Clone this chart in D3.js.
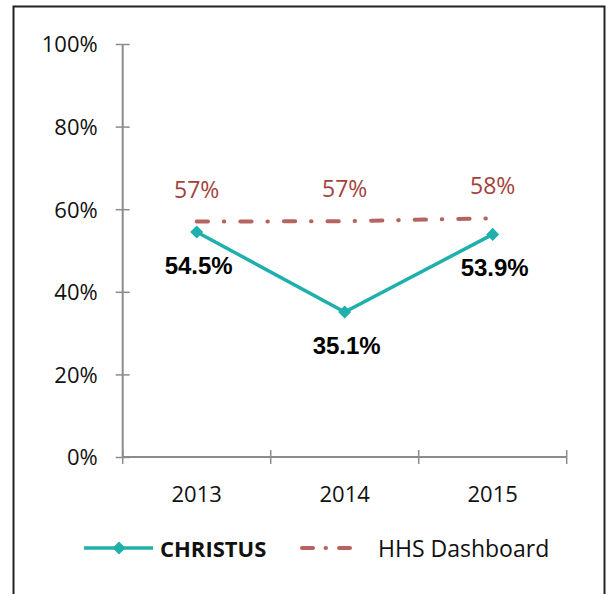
<!DOCTYPE html>
<html><head><meta charset="utf-8">
<script src="https://cdn.jsdelivr.net/npm/d3@7/dist/d3.min.js"></script>
<style>html,body{margin:0;padding:0;background:#fff;}svg{display:block;}</style>
</head><body>
<svg id="chart" width="610" height="594"></svg>
<script>
const years = ["2013", "2014", "2015"];
const christus = [0.545, 0.351, 0.539];
const christusLabels = ["54.5%", "35.1%", "53.9%"];
const hhs = [0.570, 0.571, 0.578];
const hhsLabels = ["57%", "57%", "58%"];
const yTicks = [0, 0.2, 0.4, 0.6, 0.8, 1.0];
const seriesNames = ["CHRISTUS", "HHS Dashboard"];

const teal = "#1fb0ae";
const rose = "#b5645f";
const roseText = "#a3423d";
const axisGray = "#8c8c8c";
const calibri = "'Open Sans', Lato, sans-serif";

const svg = d3.select("#chart");

// outer border (left, top, right)
svg.append("path")
  .attr("d", "M13.5,600 V6.5 H604.5 V600")
  .attr("fill", "none").attr("stroke", "#222").attr("stroke-width", 2);

const x = d3.scaleBand().domain(years).range([122.7, 566.7]).padding(0);
const y = d3.scaleLinear().domain([0, 1]).range([457, 44]);
const cx = d => x(d) + x.bandwidth() / 2;

// Y axis
const yAxis = d3.axisLeft(y).tickValues(yTicks).tickFormat(d3.format(".0%")).tickSize(7).tickPadding(18);
const gy = svg.append("g").attr("transform", `translate(${x.range()[0]},0)`).call(yAxis);
gy.select(".domain").attr("stroke", axisGray).attr("stroke-width", 2).attr("d", `M0,${y(0)}V${y(1)}`);
gy.selectAll(".tick line").attr("stroke", axisGray).attr("stroke-width", 1.5).attr("x1", -7).attr("x2", 7);
gy.selectAll(".tick text").attr("font-family", calibri).attr("font-size", 22).attr("fill", "#111").attr("dy", "0.36em");

// X axis
const xAxis = d3.axisBottom(x).tickSize(0).tickPadding(29);
const gx = svg.append("g").attr("transform", `translate(0,${y(0)})`).call(xAxis);
gx.select(".domain").attr("stroke", axisGray).attr("stroke-width", 2).attr("d", `M${x.range()[0]},0H${x.range()[1]}`);
gx.selectAll(".tick text").attr("font-family", calibri).attr("font-size", 22).attr("fill", "#111").attr("dy", "0.71em");
// boundary ticks
const bounds = years.map(d => x(d)).concat([x.range()[1]]);
gx.selectAll(".bt").data(bounds).enter().append("line")
  .attr("x1", d => d).attr("x2", d => d).attr("y1", -7).attr("y2", 7)
  .attr("stroke", axisGray).attr("stroke-width", 1.5);

// HHS line
const line = d3.line().x((d, i) => cx(years[i])).y(d => y(d));
svg.append("path").datum(hhs).attr("d", line)
  .attr("fill", "none").attr("stroke", rose).attr("stroke-width", 4)
  .attr("stroke-linecap", "round").attr("stroke-dasharray", "11.3,15.8,0.5,16");

svg.selectAll(".hhsLab").data(hhs).enter().append("text")
  .attr("x", (d, i) => cx(years[i])).attr("y", d => y(d) - 24)
  .attr("text-anchor", "middle").attr("font-family", calibri).attr("font-size", 23)
  .attr("fill", roseText).text((d, i) => hhsLabels[i]);

// CHRISTUS line
svg.append("path").datum(christus).attr("d", line)
  .attr("fill", "none").attr("stroke", teal).attr("stroke-width", 3.5);
svg.selectAll(".mk").data(christus).enter().append("path")
  .attr("d", d3.symbol().type(d3.symbolSquare).size(85))
  .attr("transform", (d, i) => `translate(${cx(years[i])},${y(d)}) rotate(45)`)
  .attr("fill", teal);

svg.selectAll(".cLab").data(christus).enter().append("text")
  .attr("x", (d, i) => cx(years[i]) + 2).attr("y", d => y(d) + 42)
  .attr("text-anchor", "middle").attr("font-family", "'Liberation Sans', Arial, sans-serif")
  .attr("font-weight", "bold").attr("font-size", 24)
  .attr("fill", "#000").text((d, i) => christusLabels[i]);

// Legend
const lg = svg.append("g");
lg.append("line").attr("x1", 84).attr("x2", 153).attr("y1", 548).attr("y2", 548)
  .attr("stroke", teal).attr("stroke-width", 3.5);
lg.append("path").attr("d", d3.symbol().type(d3.symbolSquare).size(85))
  .attr("transform", "translate(119,548) rotate(45)").attr("fill", teal);
lg.append("text").attr("x", 160).attr("y", 557).attr("font-family", calibri)
  .attr("font-weight", "bold").attr("font-size", 22).attr("fill", "#111").text(seriesNames[0]);
lg.append("line").attr("x1", 302).attr("x2", 356).attr("y1", 548).attr("y2", 548)
  .attr("stroke", rose).attr("stroke-width", 4).attr("stroke-linecap", "round")
  .attr("stroke-dasharray", "11,12.5,0.5,13");
lg.append("text").attr("x", 378).attr("y", 557).attr("font-family", calibri)
  .attr("font-size", 23).attr("fill", "#111").text(seriesNames[1]);
</script>
</body></html>
